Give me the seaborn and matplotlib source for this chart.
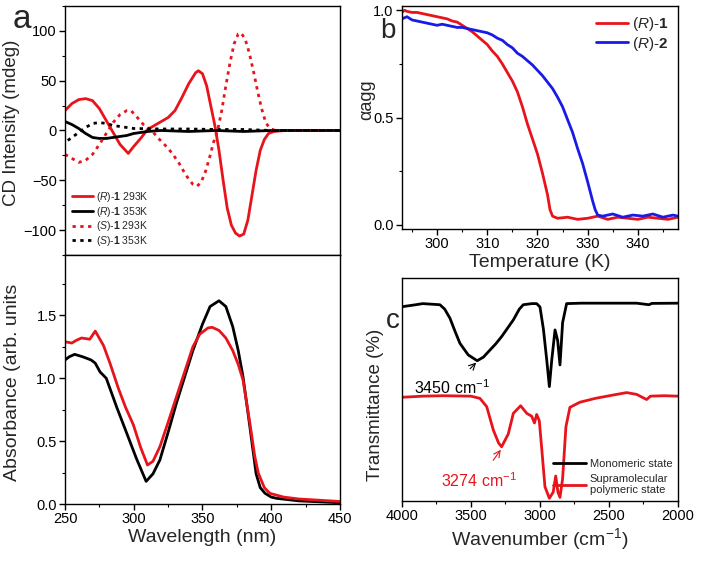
import seaborn as sns
import matplotlib.pyplot as plt
import matplotlib.ticker as mt

# ---- panel a, CD spectra (wavelength nm, mdeg)
wl_r293 = [250, 255, 260, 265, 270, 275, 280, 285, 290, 296, 300, 305, 310, 315, 320, 325, 330, 335, 340, 345, 347, 350,
           353, 356, 359, 362, 365, 368, 371, 374, 377, 380, 383, 386, 389, 392, 395, 398, 402, 410, 430, 450]
cd_r293 = [20, 27, 31, 32, 30, 22, 10, -2, -14, -23, -16, -8, 1, 5, 9, 13, 20, 33, 47, 58, 60, 57,
           45, 25, 5, -20, -50, -78, -95, -103, -106, -104, -90, -65, -40, -20, -9, -3, -1, 0, 0, 0]
wl_s293 = [250, 255, 260, 265, 270, 275, 280, 285, 290, 295, 298, 302, 307, 313, 318, 323, 328, 333, 338, 343, 346, 349,
           352, 355, 358, 361, 364, 367, 370, 373, 376, 378, 381, 384, 387, 390, 393, 396, 399, 403, 430, 450]
cd_s293 = [-24, -28, -32, -30, -24, -14, -3, 8, 16, 20, 20, 14, 6, 0, -8, -15, -23, -33, -45, -54, -56, -52,
           -42, -28, -12, 0, 20, 45, 68, 87, 97, 98, 92, 78, 60, 40, 22, 8, 2, 0, 0, 0]
wl_r353 = [250, 255, 260, 265, 270, 275, 280, 285, 290, 295, 300, 305, 310, 320, 340, 360, 380, 400, 450]
cd_r353 = [9, 6, 2, -3, -7, -8, -8, -7, -6, -5, -3, -2, -1, 0, -1, 0, -1, 0, 0]
wl_s353 = [252, 255, 260, 265, 270, 275, 280, 285, 290, 295, 300, 320, 340, 360, 380, 400, 450]
cd_s353 = [-10, -7, -2, 3, 7, 8, 7, 5, 4, 3, 2, 1.5, 1.5, 1, 1, 0, 0]

# ---- panel a, absorbance
wl_abs_k = [250, 253, 257, 263, 269, 272, 275.5, 280, 287.6, 295, 302, 309, 314, 319, 325, 331, 337, 343, 350, 355.5,
            362, 367, 372, 376, 379.5, 384.5, 389, 392, 395.5, 400, 404, 420, 450]
abs_k = [1.145, 1.17, 1.19, 1.17, 1.145, 1.12, 1.05, 1.0, 0.77, 0.56, 0.36, 0.18, 0.24, 0.35, 0.57, 0.8, 1.01, 1.22, 1.43, 1.57,
         1.616, 1.57, 1.41, 1.22, 1.01, 0.61, 0.24, 0.13, 0.085, 0.055, 0.045, 0.025, 0.01]
wl_abs_r = [250, 255, 258, 262, 268, 272, 278, 282.7, 288.8, 294, 299.7, 305, 310, 314, 319, 325, 331, 337, 343, 348, 354,
            357, 362, 367, 372, 376, 379.5, 384.5, 388, 390.6, 395, 399, 409, 420, 450]
abs_r = [1.29, 1.28, 1.3, 1.32, 1.31, 1.375, 1.26, 1.12, 0.92, 0.77, 0.63, 0.45, 0.31, 0.34, 0.455, 0.65, 0.85, 1.05, 1.25, 1.35, 1.4,
         1.405, 1.38, 1.32, 1.22, 1.11, 0.985, 0.64, 0.38, 0.245, 0.13, 0.085, 0.055, 0.04, 0.02]

# ---- panel b, alpha_agg vs temperature
t_r1 = [293, 293.5, 294, 295, 296, 297, 298, 299, 300, 301, 302, 303, 304, 305, 306, 307, 308, 309, 310, 311, 312, 313, 314,
        315, 316, 317, 318, 319, 320, 321, 322, 322.5, 323, 324, 326, 328, 330, 332, 334, 336, 338, 340, 342, 344, 346, 348]
a_r1 = [0.99, 1.0, 0.995, 0.99, 0.99, 0.985, 0.98, 0.975, 0.97, 0.965, 0.96, 0.95, 0.945, 0.93, 0.915, 0.9, 0.88, 0.86, 0.84,
        0.81, 0.785, 0.75, 0.71, 0.67, 0.62, 0.55, 0.47, 0.40, 0.33, 0.24, 0.14, 0.07, 0.04, 0.03, 0.035, 0.025, 0.03, 0.04,
        0.025, 0.035, 0.03, 0.025, 0.035, 0.03, 0.025, 0.035]
t_r2 = [293, 294, 295, 296, 297, 298, 299, 300, 301, 302, 303, 304, 305, 306, 307, 308, 309, 310, 311, 312, 313, 314, 315,
        316, 317, 318, 319, 320, 321, 322, 323, 324, 325, 326, 327, 328, 329, 330, 331, 331.5, 332, 333, 335, 337, 339, 341,
        343, 345, 347, 348]
a_r2 = [0.96, 0.97, 0.955, 0.95, 0.945, 0.94, 0.935, 0.93, 0.935, 0.93, 0.925, 0.92, 0.92, 0.915, 0.91, 0.905, 0.9, 0.895,
        0.885, 0.87, 0.86, 0.84, 0.825, 0.80, 0.785, 0.765, 0.745, 0.72, 0.695, 0.665, 0.635, 0.595, 0.55, 0.49, 0.43, 0.355,
        0.285, 0.2, 0.11, 0.07, 0.045, 0.04, 0.05, 0.035, 0.045, 0.04, 0.05, 0.035, 0.045, 0.04]

# ---- panel c, IR spectra (arbitrary transmittance scale)
wn_mono = [4000, 3900, 3850, 3725, 3690, 3652, 3615, 3580, 3520, 3455, 3410, 3362, 3320, 3278, 3235, 3193, 3150, 3121, 3060,
           3024, 3000, 2975, 2951, 2932, 2915, 2891, 2872, 2855, 2836, 2807, 2700, 2500, 2300, 2210, 2190, 2000]
tr_mono = [87.1, 88, 88.5, 88, 86, 81.9, 76, 70.7, 65.5, 62.9, 64.5, 67.7, 70.5, 73.7, 77.5, 81.2, 86, 88, 88.5,
           88.5, 87, 77, 63.2, 51.3, 63, 76.7, 72, 61, 80, 88.5, 88.7, 88.7, 88.7, 88.0, 88.6, 88.7]
wn_poly = [4000, 3850, 3700, 3500, 3435, 3386, 3338, 3300, 3278, 3230, 3193, 3140, 3096, 3060, 3040, 3024, 3005, 2988,
           2964, 2932, 2904, 2886, 2870, 2855, 2836, 2812, 2783, 2710, 2600, 2471, 2372, 2300, 2227, 2200, 2100, 2000]
tr_poly = [46.5, 47, 47.2, 47, 46, 42.3, 31.8, 26, 24.3, 30, 39.3, 42.7, 39.3, 38, 35, 38.8, 36, 24,
           6.4, 1.2, 4, 11.2, 4, 1.6, 10, 33.3, 42, 44.3, 46, 47.5, 48.6, 47.8, 45.5, 47, 47.2, 47]

sns.set_theme(style="ticks")
plt.rcParams['font.family'] = ['Liberation Sans', 'DejaVu Sans']
plt.rcParams['mathtext.fontset'] = 'custom'
plt.rcParams['mathtext.rm'] = 'Liberation Sans'
plt.rcParams['mathtext.it'] = 'Liberation Sans:italic'
plt.rcParams['mathtext.bf'] = 'Liberation Sans:bold'
plt.rcParams['axes.edgecolor'] = 'black'
plt.rcParams['axes.linewidth'] = 1.0
plt.rcParams['xtick.color'] = 'black'
plt.rcParams['ytick.color'] = 'black'

RED = '#e8141b'
BLUE = '#1a1ae6'
DOT = (0, (1.2, 1.6))
LW = 2.0

fig = plt.figure(figsize=(7.02, 5.61), dpi=100)
ax_cd = fig.add_axes([0.0926, 0.5455, 0.3917, 0.4438])
ax_abs = fig.add_axes([0.0926, 0.1016, 0.3917, 0.4439])
ax_b = fig.add_axes([0.5726, 0.5918, 0.3932, 0.3975])
ax_c = fig.add_axes([0.5726, 0.1070, 0.3932, 0.3975])


def style_ticks(ax):
    ax.tick_params(which='major', direction='out', length=4, width=1, labelsize=10.5, pad=2)
    ax.tick_params(which='minor', direction='out', length=2.5, width=0.8)


# CD
sns.lineplot(x=wl_r293, y=cd_r293, ax=ax_cd, color=RED, lw=LW, label=r'($\it{R}$)-$\bf{1}$ 293K')
sns.lineplot(x=wl_r353, y=cd_r353, ax=ax_cd, color='black', lw=LW, label=r'($\it{R}$)-$\bf{1}$ 353K')
sns.lineplot(x=wl_s293, y=cd_s293, ax=ax_cd, color=RED, lw=LW, linestyle=DOT, label=r'($\it{S}$)-$\bf{1}$ 293K')
sns.lineplot(x=wl_s353, y=cd_s353, ax=ax_cd, color='black', lw=LW, linestyle=DOT, label=r'($\it{S}$)-$\bf{1}$ 353K')
ax_cd.set_xlim(250, 450)
ax_cd.set_ylim(-125, 125)
ax_cd.set_yticks([-100, -50, 0, 50, 100])
ax_cd.yaxis.set_minor_locator(mt.MultipleLocator(25))
ax_cd.set_xticks([])
ax_cd.set_ylabel('CD Intensity (mdeg)', fontsize=13.5)
ax_cd.yaxis.set_label_coords(-0.165, 0.53)
style_ticks(ax_cd)
ax_cd.legend(loc='lower left', frameon=False, fontsize=7.5, handlelength=2.0, handletextpad=0.3,
             labelspacing=0.05, borderaxespad=0.3, bbox_to_anchor=(0.0, 0.0))

# absorbance
sns.lineplot(x=wl_abs_k, y=abs_k, ax=ax_abs, color='black', lw=LW)
sns.lineplot(x=wl_abs_r, y=abs_r, ax=ax_abs, color=RED, lw=LW)
ax_abs.set_xlim(250, 450)
ax_abs.set_ylim(0, 1.98)
ax_abs.set_yticks([0.0, 0.5, 1.0, 1.5])
ax_abs.yaxis.set_major_formatter(mt.FormatStrFormatter('%.1f'))
ax_abs.yaxis.set_minor_locator(mt.MultipleLocator(0.25))
ax_abs.set_xticks([250, 300, 350, 400, 450])
ax_abs.xaxis.set_minor_locator(mt.MultipleLocator(25))
ax_abs.set_xlabel('Wavelength (nm)', fontsize=14, labelpad=2)
ax_abs.set_ylabel('Absorbance (arb. units', fontsize=14)
ax_abs.yaxis.set_label_coords(-0.16, 0.49)
style_ticks(ax_abs)

# panel b
sns.lineplot(x=t_r1, y=a_r1, ax=ax_b, color=RED, lw=LW, label=r'($\it{R}$)-$\bf{1}$')
sns.lineplot(x=t_r2, y=a_r2, ax=ax_b, color=BLUE, lw=LW, label=r'($\it{R}$)-$\bf{2}$')
ax_b.set_xlim(293, 348)
ax_b.set_ylim(-0.02, 1.02)
ax_b.set_xticks([300, 310, 320, 330, 340])
ax_b.xaxis.set_minor_locator(mt.MultipleLocator(5))
ax_b.set_yticks([0.0, 0.5, 1.0])
ax_b.yaxis.set_major_formatter(mt.FormatStrFormatter('%.1f'))
ax_b.yaxis.set_minor_locator(mt.MultipleLocator(0.25))
ax_b.set_xlabel('Temperature (K)', fontsize=14, labelpad=2)
ax_b.set_ylabel('αagg', fontsize=13)
ax_b.yaxis.set_label_coords(-0.095, 0.58)
style_ticks(ax_b)
ax_b.legend(loc='upper right', frameon=False, fontsize=11, handlelength=2.1, handletextpad=0.3,
            labelspacing=0.1, borderaxespad=0.2)

# panel c
sns.lineplot(x=wn_mono, y=tr_mono, ax=ax_c, color='black', lw=LW, label='Monomeric state')
sns.lineplot(x=wn_poly, y=tr_poly, ax=ax_c, color=RED, lw=LW, label='Supramolecular\npolymeric state')
ax_c.set_xlim(4000, 2000)
ax_c.set_ylim(0, 100)
ax_c.set_xticks([4000, 3500, 3000, 2500, 2000])
ax_c.xaxis.set_minor_locator(mt.MultipleLocator(250))
ax_c.set_yticks([])
ax_c.set_xlabel('Wavenumber (cm$^{-1}$)', fontsize=14, labelpad=2)
ax_c.set_ylabel('Transmittance (%)', fontsize=13.5)
ax_c.yaxis.set_label_coords(-0.065, 0.43)
style_ticks(ax_c)
ax_c.legend(loc='lower right', frameon=False, fontsize=8, handlelength=3.0, handletextpad=0.3,
            labelspacing=0.4, borderaxespad=0.1)
ax_c.annotate('3450 cm$^{-1}$', xy=(3455, 62.5), xytext=(3640, 51), color='black', fontsize=11.5,
              ha='center', va='center',
              arrowprops=dict(arrowstyle='->', color='black', lw=0.8, shrinkA=6, shrinkB=1))
ax_c.annotate('3274 cm$^{-1}$', xy=(3278, 23.5), xytext=(3445, 9), color=RED, fontsize=11.5,
              ha='center', va='center',
              arrowprops=dict(arrowstyle='->', color=RED, lw=0.8, shrinkA=7, shrinkB=1))

fig.text(0.031, 0.965, 'a', fontsize=24, ha='center', va='center')
fig.text(0.553, 0.945, 'b', fontsize=20, ha='center', va='center')
fig.text(0.559, 0.428, 'c', fontsize=20, ha='center', va='center')

fig.savefig('out.png', dpi=100)
